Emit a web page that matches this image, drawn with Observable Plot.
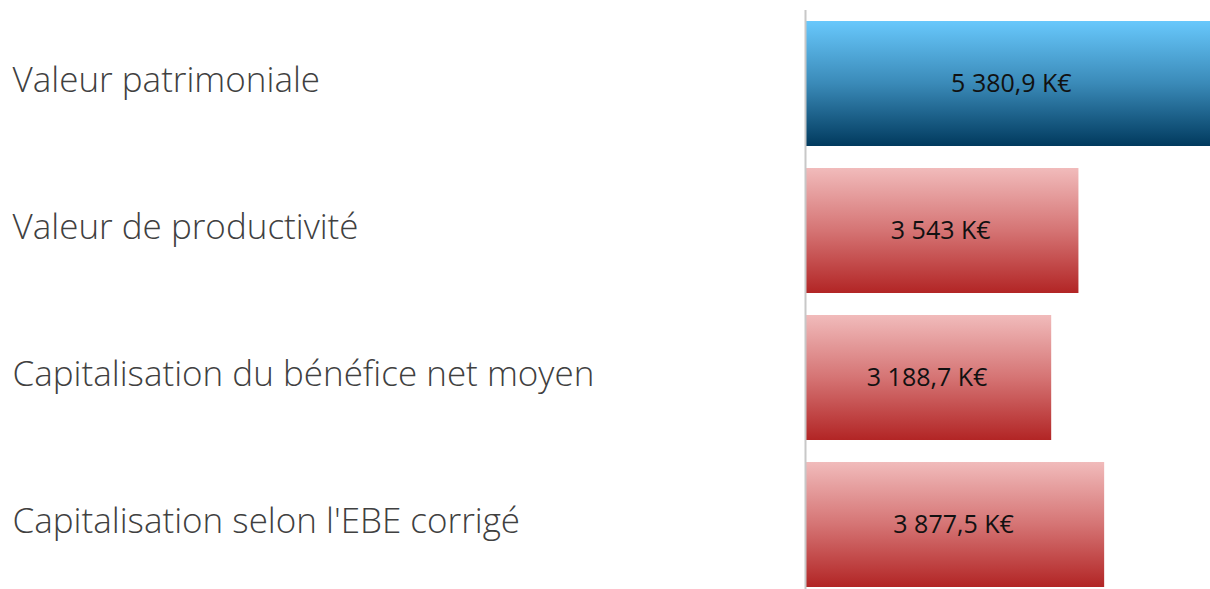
<!DOCTYPE html>
<html><head><meta charset="utf-8">
<script src="https://cdn.jsdelivr.net/npm/d3@7"></script>
<script src="https://cdn.jsdelivr.net/npm/@observablehq/plot@0.6"></script>
<style>html,body{margin:0;padding:0;overflow:hidden;background:#fff}</style>
</head><body><div id="chart"></div>
<script>
const categories = ["Valeur patrimoniale", "Valeur de productivité", "Capitalisation du bénéfice net moyen", "Capitalisation selon l'EBE corrigé"];
const values = [5380.9, 3543, 3188.7, 3877.5];
const valueLabels = ["5 380,9 K€", "3 543 K€", "3 188,7 K€", "3 877,5 K€"];
const groups = ["patrimoine", "rendement", "rendement", "rendement"];

const data = categories.map((c, i) => ({cat: c, value: values[i], label: valueLabels[i], group: groups[i]}));

const plot = Plot.plot({
  width: 1210, height: 589,
  marginLeft: 806, marginRight: 0, marginTop: 21, marginBottom: 2,
  style: {fontFamily: "'Open Sans', sans-serif", overflow: "hidden"},
  x: {domain: [0, 5254], axis: null},
  y: {domain: categories, axis: null, paddingInner: 0.15, paddingOuter: 0},
  marks: [
    Plot.barX(data, {y: "cat", x: "value", fill: d => d.group === "patrimoine" ? "url(#gBlue)" : "url(#gRed)", clip: true}),
    Plot.ruleX([0], {stroke: "#c8c8c8", strokeWidth: 2, insetTop: -11, insetBottom: -2, dx: -1}),
    Plot.text(data, {y: "cat", x: d => d.value / 2, text: "label", fill: "#111", fontSize: 25, dx: -2}),
    Plot.text(data, {y: "cat", text: "cat", frameAnchor: "left", dx: -794, dy: -3, textAnchor: "start", fill: "#404040", fontSize: 35, fontWeight: 300})
  ]
});

const ns = "http://www.w3.org/2000/svg";
const defs = document.createElementNS(ns, "defs");
defs.innerHTML = `
<linearGradient id="gBlue" x1="0" y1="0" x2="0" y2="1">
  <stop offset="0" stop-color="#68c8fc"/>
  <stop offset="0.5" stop-color="#3a8ab8"/>
  <stop offset="1" stop-color="#013a5e"/>
</linearGradient>
<linearGradient id="gRed" x1="0" y1="0" x2="0" y2="1">
  <stop offset="0" stop-color="#f1bbbb"/>
  <stop offset="0.5" stop-color="#d57474"/>
  <stop offset="1" stop-color="#b22525"/>
</linearGradient>`;
plot.insertBefore(defs, plot.firstChild);
document.getElementById("chart").appendChild(plot);
</script></body></html>
